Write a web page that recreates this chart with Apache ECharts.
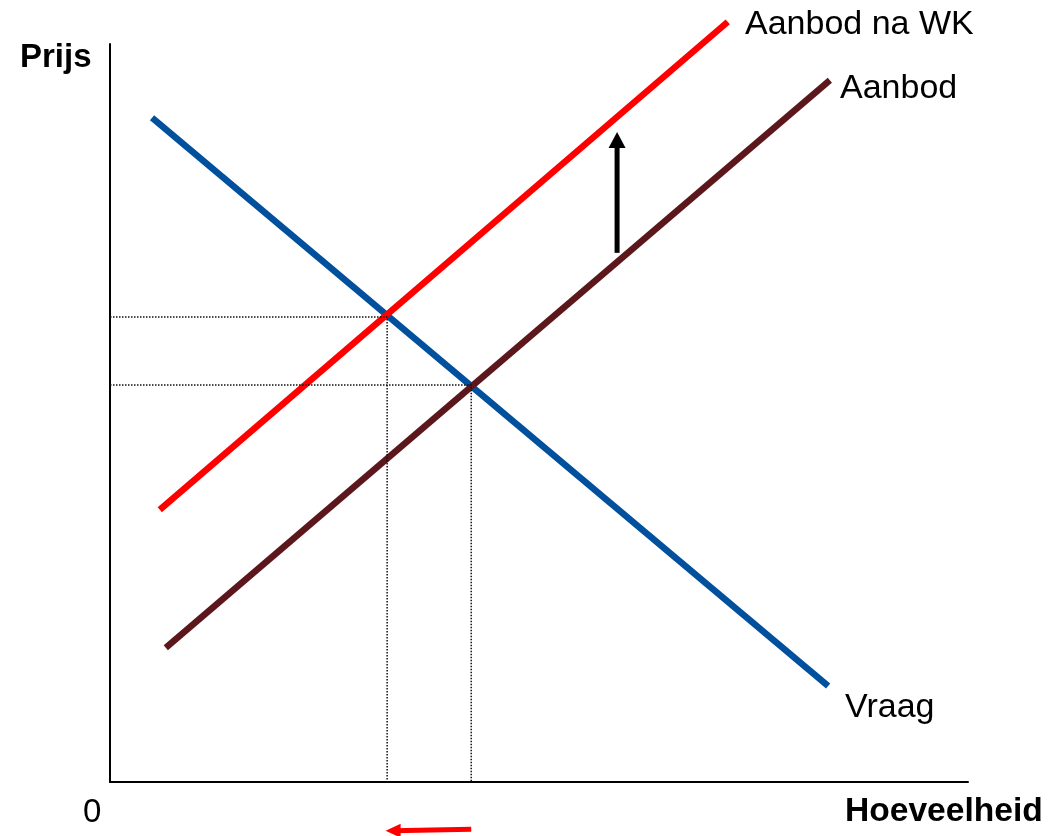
<!DOCTYPE html>
<html>
<head>
<meta charset="utf-8">
<title>Aanbod en vraag</title>
<script src="https://cdn.jsdelivr.net/npm/echarts@6/dist/echarts.min.js"></script>
<style>
html, body { margin: 0; padding: 0; background: #fff; }
#chart { width: 1052px; height: 836px; }
</style>
</head>
<body>
<div id="chart"></div>
<script>
// assen: hoeveelheid 0..100, prijs 0..100
const vraag = [[4.9, 90.0], [83.7, 13.0]];
const aanbod = [[6.5, 18.2], [83.9, 95.1]];
const aanbodNaWK = [[5.8, 36.9], [72.0, 103.0]];

// evenwichten: na WK en oorspronkelijk
const evenwichtNaWK = [[0, 63.0], [32.3, 63.0], [32.3, 0]];
const evenwicht = [[0, 53.8], [42.1, 53.8], [42.1, 0]];

// pijlen (schacht begin, midden van de pijlpunt)
const pijlOmhoog = [[59.1, 71.7], [59.1, 87.0]];
const pijlLinks = [[42.1, -6.4], [33.0, -6.6]];

const font = "'Liberation Sans', Arial, sans-serif";

let chart = echarts.init(document.getElementById('chart'));

function pijl(data, color, size, rotate) {
    return {
        type: 'line',
        clip: false,
        silent: true,
        z: 4,
        lineStyle: { color: color, width: 5 },
        data: [
            { value: data[0], symbol: 'none' },
            { value: data[1], symbol: 'triangle', symbolSize: size, symbolRotate: rotate,
              itemStyle: { color: color, borderWidth: 0 } }
        ]
    };
}

let option = {
    backgroundColor: '#fff',
    animation: false,
    grid: { left: 110, right: 84, top: 44, bottom: 54 },
    xAxis: {
        type: 'value', min: 0, max: 100,
        axisLine: { show: true, lineStyle: { color: '#000', width: 2 } },
        axisTick: { show: false },
        axisLabel: { show: false },
        splitLine: { show: false }
    },
    yAxis: {
        type: 'value', min: 0, max: 100,
        axisLine: { show: true, lineStyle: { color: '#000', width: 2 } },
        axisTick: { show: false },
        axisLabel: { show: false },
        splitLine: { show: false }
    },
    series: [
        {
            name: 'Vraag', type: 'line', symbol: 'none', clip: false, z: 2,
            lineStyle: { color: '#00509E', width: 6.5 },
            data: vraag
        },
        {
            name: 'Aanbod', type: 'line', symbol: 'none', clip: false, z: 2,
            lineStyle: { color: '#5C171D', width: 6.5 },
            data: aanbod
        },
        {
            name: 'Aanbod na WK', type: 'line', symbol: 'none', clip: false, z: 2,
            lineStyle: { color: '#FF0000', width: 6.5 },
            data: aanbodNaWK
        },
        {
            type: 'line', symbol: 'none', z: 3,
            lineStyle: { color: '#111', width: 1.5, type: 'dotted' },
            data: evenwichtNaWK
        },
        {
            type: 'line', symbol: 'none', z: 3,
            lineStyle: { color: '#111', width: 1.5, type: 'dotted' },
            data: evenwicht
        },
        pijl(pijlOmhoog, '#000', [17, 16], 0),
        pijl(pijlLinks, '#FF0000', [14, 15], 90)
    ],
    graphic: [
        { type: 'text', left: 20, top: 41, style: { text: 'Prijs', font: 'bold 33px ' + font, fill: '#000' } },
        { type: 'text', left: 83, top: 796, style: { text: '0', font: '33px ' + font, fill: '#000' } },
        { type: 'text', left: 845, top: 795, style: { text: 'Hoeveelheid', font: 'bold 33.6px ' + font, fill: '#000' } },
        { type: 'text', left: 745, top: 8, style: { text: 'Aanbod na WK', font: '34px ' + font, fill: '#000' } },
        { type: 'text', left: 840, top: 72, style: { text: 'Aanbod', font: '34px ' + font, fill: '#000' } },
        { type: 'text', left: 845, top: 691, style: { text: 'Vraag', font: '34px ' + font, fill: '#000' } }
    ]
};

chart.setOption(option, { notMerge: true });
window.addEventListener('resize', () => { chart.resize() });
</script>
</body>
</html>
